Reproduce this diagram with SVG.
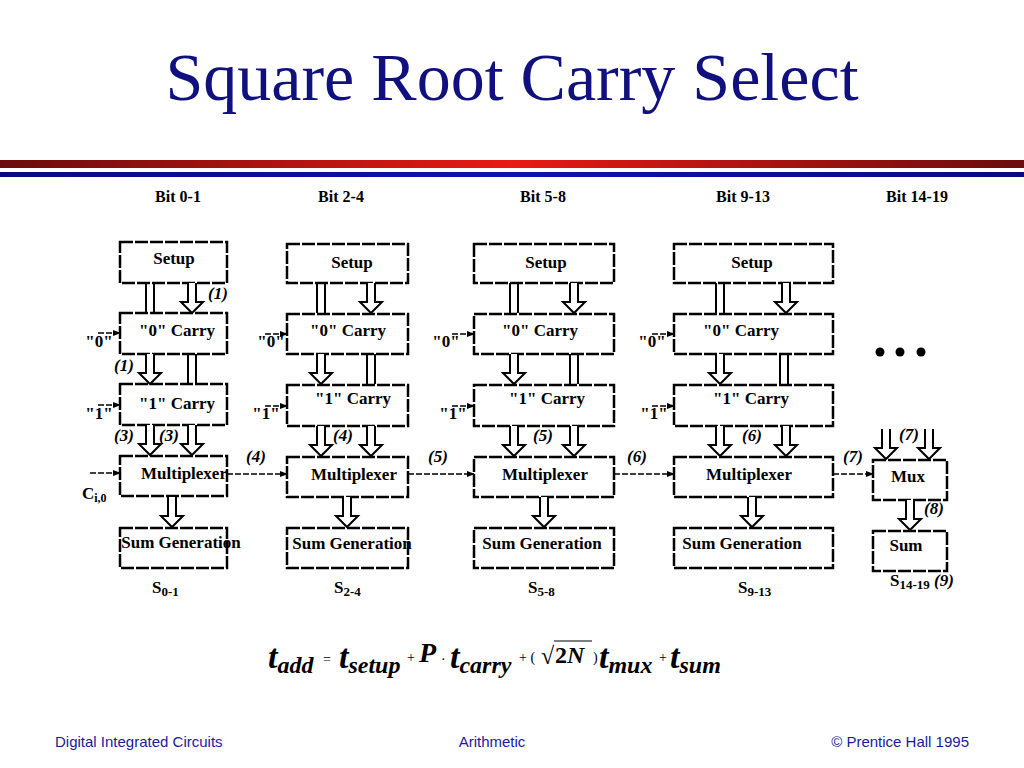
<svg xmlns="http://www.w3.org/2000/svg" xmlns:xlink="http://www.w3.org/1999/xlink" width="1024" height="768" viewBox="0 0 1024 768">
<style>
.box{fill:#fff;stroke:#000;stroke-width:2.5;stroke-dasharray:13 2}
.bt{font-family:"Liberation Serif",serif;font-weight:bold;font-size:17px;fill:#000}
.lbl{font-family:"Liberation Serif",serif;font-weight:bold;font-style:italic;font-size:17px;fill:#000}
.hdr{font-family:"Liberation Serif",serif;font-weight:bold;font-size:16px;fill:#000}
.dl{fill:none;stroke:#000;stroke-width:1.5;stroke-dasharray:6 2}
.par{fill:none;stroke:#000;stroke-width:2}
.foot{font-family:"Liberation Sans",sans-serif;font-size:15px;fill:#1a1aa0}
.eq{font-family:"Liberation Serif",serif;font-weight:bold;font-style:italic;fill:#000}
</style>
<defs>
<linearGradient id="red" x1="0" x2="1" y1="0" y2="0">
<stop offset="0" stop-color="#6a0c0c"/><stop offset="0.5" stop-color="#e81a14"/><stop offset="1" stop-color="#6a0c0c"/>
</linearGradient>
<linearGradient id="blue" x1="0" x2="1" y1="0" y2="0">
<stop offset="0" stop-color="#0a0a80"/><stop offset="0.5" stop-color="#0a14b0"/><stop offset="1" stop-color="#0a0a80"/>
</linearGradient>
<path id="fat" d="M-4,0 V19 H-11 L0,30 L11,19 H4 V0" fill="#fff" stroke="#000" stroke-width="2"/>
<path id="pair" d="M-4,0 V30 M4,0 V30" class="par"/>
<marker id="ah" markerWidth="8" markerHeight="8" refX="7" refY="4" orient="auto" markerUnits="userSpaceOnUse">
<path d="M0,1 L8,4 L0,7 Z" fill="#000"/>
</marker>
</defs>
<rect width="1024" height="768" fill="#fff"/>
<text x="512" y="100" text-anchor="middle" font-family="Liberation Serif,serif" font-size="68" fill="#10107f">Square Root Carry Select</text>
<rect x="0" y="160" width="1024" height="8" fill="url(#red)"/>
<rect x="0" y="172" width="1024" height="5" fill="url(#blue)"/>
<g id="headers">
<text class="hdr" x="178" y="202" text-anchor="middle">Bit 0-1</text>
<text class="hdr" x="341" y="202" text-anchor="middle">Bit 2-4</text>
<text class="hdr" x="543" y="202" text-anchor="middle">Bit 5-8</text>
<text class="hdr" x="743" y="202" text-anchor="middle">Bit 9-13</text>
<text class="hdr" x="917" y="202" text-anchor="middle">Bit 14-19</text>
</g>
<!-- Column 1 -->
<g id="c1-setup"><rect class="box" x="120" y="242" width="107" height="41"/><text class="bt" x="174" y="264" text-anchor="middle">Setup</text></g>
<g id="c1-carry0"><rect class="box" x="120" y="313" width="107" height="41"/><text class="bt" x="177" y="336" text-anchor="middle">"0" Carry</text></g>
<g id="c1-carry1"><rect class="box" x="120" y="384" width="107" height="41"/><text class="bt" x="177" y="409" text-anchor="middle">"1" Carry</text></g>
<g id="c1-mux"><rect class="box" x="120" y="456" width="107" height="40"/><text class="bt" x="184" y="479" text-anchor="middle">Multiplexer</text></g>
<g id="c1-sum"><rect class="box" x="120" y="528" width="107" height="40"/><text class="bt" x="181" y="548" text-anchor="middle">Sum Generation</text></g>
<!-- Column 2 -->
<g id="c2-setup"><rect class="box" x="287" y="244" width="121" height="39"/><text class="bt" x="352" y="268" text-anchor="middle">Setup</text></g>
<g id="c2-carry0"><rect class="box" x="287" y="314" width="121" height="40"/><text class="bt" x="348" y="336" text-anchor="middle">"0" Carry</text></g>
<g id="c2-carry1"><rect class="box" x="287" y="385" width="121" height="41"/><text class="bt" x="353" y="404" text-anchor="middle">"1" Carry</text></g>
<g id="c2-mux"><rect class="box" x="287" y="457" width="121" height="40"/><text class="bt" x="354" y="480" text-anchor="middle">Multiplexer</text></g>
<g id="c2-sum"><rect class="box" x="287" y="528" width="121" height="40"/><text class="bt" x="352" y="549" text-anchor="middle">Sum Generation</text></g>
<!-- Column 3 -->
<g id="c3-setup"><rect class="box" x="474" y="244" width="140" height="39"/><text class="bt" x="546" y="268" text-anchor="middle">Setup</text></g>
<g id="c3-carry0"><rect class="box" x="474" y="314" width="140" height="40"/><text class="bt" x="540" y="336" text-anchor="middle">"0" Carry</text></g>
<g id="c3-carry1"><rect class="box" x="474" y="385" width="140" height="41"/><text class="bt" x="547" y="404" text-anchor="middle">"1" Carry</text></g>
<g id="c3-mux"><rect class="box" x="474" y="457" width="140" height="40"/><text class="bt" x="545" y="480" text-anchor="middle">Multiplexer</text></g>
<g id="c3-sum"><rect class="box" x="474" y="528" width="140" height="40"/><text class="bt" x="542" y="549" text-anchor="middle">Sum Generation</text></g>
<!-- Column 4 -->
<g id="c4-setup"><rect class="box" x="674" y="244" width="159" height="39"/><text class="bt" x="752" y="268" text-anchor="middle">Setup</text></g>
<g id="c4-carry0"><rect class="box" x="674" y="314" width="159" height="40"/><text class="bt" x="741" y="336" text-anchor="middle">"0" Carry</text></g>
<g id="c4-carry1"><rect class="box" x="674" y="385" width="159" height="41"/><text class="bt" x="751" y="404" text-anchor="middle">"1" Carry</text></g>
<g id="c4-mux"><rect class="box" x="674" y="457" width="159" height="40"/><text class="bt" x="749" y="480" text-anchor="middle">Multiplexer</text></g>
<g id="c4-sum"><rect class="box" x="674" y="528" width="159" height="40"/><text class="bt" x="742" y="549" text-anchor="middle">Sum Generation</text></g>
<!-- Column 5 -->
<g id="c5-mux"><rect class="box" x="873" y="460" width="74" height="40"/><text class="bt" x="908" y="482" text-anchor="middle">Mux</text></g>
<g id="c5-sum"><rect class="box" x="873" y="531" width="74" height="40"/><text class="bt" x="906" y="551" text-anchor="middle">Sum</text></g>
<g id="dots">
<circle cx="880" cy="352" r="4.5" fill="#000"/><circle cx="900" cy="352" r="4.5" fill="#000"/><circle cx="921" cy="352" r="4.5" fill="#000"/>
</g>
<g id="connectors">
<use xlink:href="#pair" x="150" y="283"/>
<use xlink:href="#fat" x="192" y="283"/>
<use xlink:href="#fat" x="150" y="354"/>
<use xlink:href="#pair" x="192" y="354"/>
<use xlink:href="#fat" x="150" y="425"/>
<use xlink:href="#fat" x="192" y="425"/>
<use xlink:href="#fat" x="172" y="497"/>
<use xlink:href="#pair" x="321" y="283"/>
<use xlink:href="#fat" x="371" y="283"/>
<use xlink:href="#fat" x="321" y="354"/>
<use xlink:href="#pair" x="371" y="354"/>
<use xlink:href="#fat" x="321" y="426"/>
<use xlink:href="#fat" x="371" y="426"/>
<use xlink:href="#fat" x="347" y="497"/>
<use xlink:href="#pair" x="514" y="283"/>
<use xlink:href="#fat" x="574" y="283"/>
<use xlink:href="#fat" x="514" y="354"/>
<use xlink:href="#pair" x="574" y="354"/>
<use xlink:href="#fat" x="514" y="426"/>
<use xlink:href="#fat" x="574" y="426"/>
<use xlink:href="#fat" x="544" y="497"/>
<use xlink:href="#pair" x="720" y="283"/>
<use xlink:href="#fat" x="786" y="283"/>
<use xlink:href="#fat" x="720" y="354"/>
<use xlink:href="#pair" x="784" y="354"/>
<use xlink:href="#fat" x="720" y="426"/>
<use xlink:href="#fat" x="786" y="426"/>
<use xlink:href="#fat" x="752" y="497"/>
<use xlink:href="#fat" x="886" y="429"/>
<use xlink:href="#fat" x="929" y="429"/>
<use xlink:href="#fat" x="910" y="500"/>
<path class="dl" d="M98,333 H120" marker-end="url(#ah)"/>
<path class="dl" d="M98,405 H120" marker-end="url(#ah)"/>
<path class="dl" d="M90,473 H120" marker-end="url(#ah)"/>
<path class="dl" d="M265,334 H287" marker-end="url(#ah)"/>
<path class="dl" d="M265,406 H287" marker-end="url(#ah)"/>
<path class="dl" d="M452,334 H474" marker-end="url(#ah)"/>
<path class="dl" d="M452,406 H474" marker-end="url(#ah)"/>
<path class="dl" d="M652,334 H674" marker-end="url(#ah)"/>
<path class="dl" d="M652,406 H674" marker-end="url(#ah)"/>
<path class="dl" d="M227,474 H287" marker-end="url(#ah)"/>
<path class="dl" d="M408,474 H474" marker-end="url(#ah)"/>
<path class="dl" d="M614,474 H674" marker-end="url(#ah)"/>
<path class="dl" d="M833,474 H873" marker-end="url(#ah)"/>
</g>
<g id="labels">
<text class="bt" x="99" y="347" text-anchor="middle">"0"</text>
<text class="bt" x="99" y="419" text-anchor="middle">"1"</text>
<text class="bt" x="82" y="499">C<tspan font-size="12" dy="3">i,0</tspan></text>
<text class="bt" x="271" y="347" text-anchor="middle">"0"</text>
<text class="bt" x="266" y="419" text-anchor="middle">"1"</text>
<text class="bt" x="446" y="347" text-anchor="middle">"0"</text>
<text class="bt" x="453" y="419" text-anchor="middle">"1"</text>
<text class="bt" x="652" y="347" text-anchor="middle">"0"</text>
<text class="bt" x="654" y="419" text-anchor="middle">"1"</text>
<text class="lbl" x="218" y="299" text-anchor="middle">(1)</text>
<text class="lbl" x="124" y="371" text-anchor="middle">(1)</text>
<text class="lbl" x="124" y="441" text-anchor="middle">(3)</text>
<text class="lbl" x="169" y="441" text-anchor="middle">(3)</text>
<text class="lbl" x="256" y="462" text-anchor="middle">(4)</text>
<text class="lbl" x="343" y="441" text-anchor="middle">(4)</text>
<text class="lbl" x="438" y="462" text-anchor="middle">(5)</text>
<text class="lbl" x="543" y="441" text-anchor="middle">(5)</text>
<text class="lbl" x="637" y="462" text-anchor="middle">(6)</text>
<text class="lbl" x="752" y="441" text-anchor="middle">(6)</text>
<text class="lbl" x="853" y="462" text-anchor="middle">(7)</text>
<text class="lbl" x="909" y="440" text-anchor="middle">(7)</text>
<text class="lbl" x="934" y="514" text-anchor="middle">(8)</text>
<text class="bt" x="152" y="593">S<tspan font-size="13" dy="3">0-1</tspan></text>
<text class="bt" x="334" y="593">S<tspan font-size="13" dy="3">2-4</tspan></text>
<text class="bt" x="528" y="593">S<tspan font-size="13" dy="3">5-8</tspan></text>
<text class="bt" x="738" y="593">S<tspan font-size="13" dy="3">9-13</tspan></text>
<text class="bt" x="890" y="586">S<tspan font-size="13" dy="3">14-19</tspan><tspan class="lbl" dy="-3"> (9)</tspan></text>
</g>
<g id="formula">
<text class="eq" x="268" y="668" font-size="34">t<tspan font-size="24" dy="5">add</tspan></text>
<text x="323" y="664" font-family="Liberation Serif,serif" font-size="14">=</text>
<text class="eq" x="339" y="668" font-size="34">t<tspan font-size="24" dy="5">setup</tspan></text>
<text x="407" y="662" font-family="Liberation Serif,serif" font-size="14">+</text>
<text class="eq" x="419" y="662" font-size="28">P</text>
<text x="441" y="664" font-family="Liberation Serif,serif" font-size="14">·</text>
<text class="eq" x="450" y="668" font-size="34">t<tspan font-size="24" dy="5">carry</tspan></text>
<text x="519" y="662" font-family="Liberation Serif,serif" font-size="14">+ (</text>
<text x="541" y="664" font-family="Liberation Serif,serif" font-size="24">√</text>
<line x1="554" y1="641" x2="592" y2="641" stroke="#000" stroke-width="1.2"/>
<text x="555" y="663" font-family="Liberation Serif,serif" font-weight="bold" font-size="24">2<tspan font-style="italic">N</tspan></text>
<text x="593" y="662" font-family="Liberation Serif,serif" font-size="14">)</text>
<text class="eq" x="599" y="668" font-size="34">t<tspan font-size="24" dy="5">mux</tspan></text>
<text x="659" y="662" font-family="Liberation Serif,serif" font-size="14">+</text>
<text class="eq" x="670" y="668" font-size="34">t<tspan font-size="24" dy="5">sum</tspan></text>
</g>
<g id="footer">
<text class="foot" x="55" y="747">Digital Integrated Circuits</text>
<text class="foot" x="492" y="747" text-anchor="middle">Arithmetic</text>
<text class="foot" x="969" y="747" text-anchor="end">© Prentice Hall 1995</text>
</g>
</svg>
